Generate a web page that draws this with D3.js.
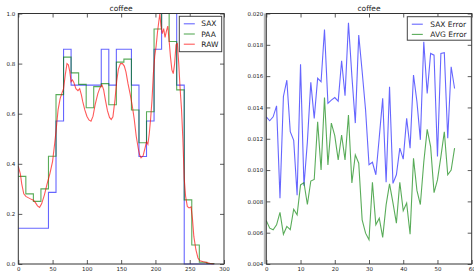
<!DOCTYPE html>
<html>
<head>
<meta charset="utf-8">
<script src="https://cdn.jsdelivr.net/npm/d3@7"></script>
<style>
  body { margin: 0; background: #fff; }
  svg { display: block; font-family: "DejaVu Sans", sans-serif; }
  .tick text { font-size: 5.5px; fill: #222; }
  .tick line { stroke: #333; stroke-width: 0.8; }
</style>
</head>
<body>
<div id="chart"></div>
<script>
// left panel: segment edges of the 26 PAA/SAX frames
var segEdges = [0, 11, 22, 33, 44, 55, 66, 77, 88, 99, 110, 121, 132, 143, 154, 165, 176, 187, 198, 209, 220, 231, 242, 253, 264, 275, 286];
var saxVals = [0.143, 0.143, 0.143, 0.143, 0.286, 0.571, 0.857, 0.714, 0.714, 0.714, 0.714, 0.857, 0.714,
               0.857, 0.857, 0.714, 0.429, 0.571, 0.857, 1.0, 1.0, 0.714, 0, 0, 0, 0];
var paaVals = [0.35, 0.28, 0.25, 0.30, 0.43, 0.676, 0.826, 0.763, 0.717, 0.624, 0.708, 0.72, 0.636,
               0.806, 0.818, 0.615, 0.484, 0.608, 0.938, 1.0, 0.888, 0.695, 0.256, 0.076, 0.007, 0.002];
var rawX = [0, 3, 5, 8, 11, 15, 19, 22, 25, 28, 31, 34, 38, 42, 46, 50, 53, 55, 58, 61, 64, 66, 68.5, 71, 73, 75, 77, 79,
            81, 84, 87, 89.5, 92, 94, 97, 100, 103, 106, 109, 112, 116, 119, 122, 124.5, 127, 130, 133, 135.5, 138, 141,
            143.5, 146, 149, 152, 154.6, 157, 160, 163, 166, 169, 172, 175, 177, 179, 182, 185, 187, 189, 191, 193, 195,
            197, 199, 201, 203, 205, 206.5, 208, 210, 212, 214, 216, 218, 220, 222, 224, 226, 228, 230, 232, 234, 236,
            238, 240, 242, 244, 246.5, 249, 252, 254, 256, 259, 262, 265, 270, 275, 280, 285];
var rawY = [0.39, 0.36, 0.32, 0.28, 0.27, 0.264, 0.258, 0.255, 0.245, 0.232, 0.226, 0.24, 0.275, 0.32, 0.36, 0.41, 0.48,
            0.53, 0.615, 0.66, 0.685, 0.70, 0.755, 0.80, 0.795, 0.77, 0.728, 0.735, 0.725, 0.70, 0.692, 0.70, 0.675, 0.648,
            0.615, 0.59, 0.575, 0.57, 0.59, 0.635, 0.68, 0.703, 0.715, 0.695, 0.655, 0.612, 0.585, 0.577, 0.588, 0.655,
            0.73, 0.778, 0.80, 0.80, 0.79, 0.767, 0.72, 0.68, 0.635, 0.58, 0.51, 0.46, 0.435, 0.424, 0.432, 0.465, 0.488,
            0.478, 0.52, 0.58, 0.655, 0.76, 0.83, 0.87, 0.925, 0.97, 1.0, 0.95, 0.92, 0.94, 0.905, 0.93, 0.95, 0.89,
            0.825, 0.775, 0.76, 0.80, 0.875, 0.88, 0.80, 0.70, 0.62, 0.50, 0.34, 0.27, 0.23, 0.224, 0.228, 0.18, 0.11,
            0.057, 0.024, 0.013, 0.009, 0.006, 0.002, 0.0];

// right panel: reconstruction errors per word length
var saxErr = [0.0134, 0.01315, 0.0134, 0.0141, 0.0082, 0.0147, 0.01574, 0.01245, 0.0119, 0.0084, 0.01675, 0.0090,
              0.0118, 0.0156, 0.0133, 0.01586, 0.01564, 0.01898, 0.01426, 0.01447, 0.01463, 0.0144, 0.01698, 0.01475,
              0.0194, 0.0160, 0.0130, 0.01862, 0.0163, 0.01384, 0.01034, 0.0105, 0.0097, 0.0121, 0.01458, 0.00922,
              0.01532, 0.00915, 0.0097, 0.0114, 0.0107, 0.0133, 0.0114, 0.01607, 0.01437, 0.01193, 0.01819, 0.0149,
              0.01745, 0.01734, 0.01086, 0.01745, 0.0175, 0.01203, 0.0166, 0.01521];
var avgErr = [0.00677, 0.00629, 0.00619, 0.0065, 0.0073, 0.0059, 0.0064, 0.0062, 0.0075, 0.00714, 0.00905, 0.0092,
              0.0078, 0.0093, 0.0094, 0.01309, 0.0100, 0.01464, 0.01033, 0.0130, 0.0122, 0.01065, 0.01224, 0.01065,
              0.01352, 0.00917, 0.01097, 0.01044, 0.00682, 0.00597, 0.00555, 0.00922, 0.0065, 0.00693, 0.0057, 0.00778,
              0.00912, 0.0079, 0.00661, 0.00922, 0.0074, 0.00789, 0.0059, 0.01075, 0.0087, 0.0078, 0.0105, 0.0126,
              0.0115, 0.00856, 0.00937, 0.01086, 0.01245, 0.0097, 0.0100, 0.0114];

var leftXTicks = [0, 50, 100, 150, 200, 250, 300];
var leftYTicks = [0.0, 0.2, 0.4, 0.6, 0.8, 1.0];
var rightXTicks = [0, 10, 20, 30, 40, 50, 60];
var rightYTicks = [0.004, 0.006, 0.008, 0.010, 0.012, 0.014, 0.016, 0.018, 0.020];

var W = 474, H = 276;
var svg = d3.select('#chart').append('svg').attr('width', W).attr('height', H);

var plotTop = 13.5, plotBottom = 264;

function frame(g, x, y, xTicks, yTicks, xFmt, yFmt) {
    g.append('g').attr('transform', 'translate(0,' + plotBottom + ')')
        .call(d3.axisBottom(x).tickValues(xTicks).tickFormat(xFmt).tickSizeInner(-4).tickSizeOuter(0).tickPadding(3))
        .call(a => a.select('.domain').remove());
    g.append('g').attr('transform', 'translate(0,' + plotTop + ')')
        .call(d3.axisTop(x).tickValues(xTicks).tickFormat('').tickSizeInner(-4).tickSizeOuter(0))
        .call(a => a.select('.domain').remove());
    g.append('g').attr('transform', 'translate(' + x.range()[0] + ',0)')
        .call(d3.axisLeft(y).tickValues(yTicks).tickFormat(yFmt).tickSizeInner(-4).tickSizeOuter(0).tickPadding(3))
        .call(a => a.select('.domain').remove());
    g.append('g').attr('transform', 'translate(' + x.range()[1] + ',0)')
        .call(d3.axisRight(y).tickValues(yTicks).tickFormat('').tickSizeInner(-4).tickSizeOuter(0))
        .call(a => a.select('.domain').remove());
    g.selectAll('g[font-family]').attr('font-family', null).attr('font-size', null);
}

function border(g, x) {
    g.append('rect')
        .attr('x', x.range()[0]).attr('y', plotTop)
        .attr('width', x.range()[1] - x.range()[0]).attr('height', plotBottom - plotTop)
        .attr('fill', 'none').attr('stroke', '#333').attr('stroke-width', 1);
}

function legend(g, x0, y0, w, h, items) {
    g.append('rect').attr('x', x0).attr('y', y0).attr('width', w).attr('height', h)
        .attr('fill', '#fff').attr('stroke', '#444').attr('stroke-width', 1);
    items.forEach(function(it, i) {
        var yy = y0 + 7.5 + i * 10.2;
        g.append('line').attr('x1', x0 + 4.5).attr('x2', x0 + 15.5).attr('y1', yy).attr('y2', yy)
            .attr('stroke', it.color).attr('stroke-opacity', it.op).attr('stroke-width', 1.1);
        g.append('text').attr('x', x0 + it.tx).attr('y', yy + 2.6)
            .attr('font-size', 7.5).attr('fill', '#222').text(it.label);
    });
}

// ---------- left panel ----------
var xL = d3.scaleLinear().domain([0, 300]).range([18.3, 224]);
var yL = d3.scaleLinear().domain([0, 1]).range([plotBottom, plotTop]);
var gL = svg.append('g');

frame(gL, xL, yL, leftXTicks, leftYTicks, d3.format('d'), d3.format('.1f'));

var step = d3.line().x(d => xL(d[0])).y(d => yL(d[1])).curve(d3.curveStepAfter);
function steps(vals) {
    var pts = vals.map((v, i) => [segEdges[i], v]);
    pts.push([segEdges[segEdges.length - 1], vals[vals.length - 1]]);
    return pts;
}

gL.append('path').attr('d', step(steps(saxVals)))
    .attr('fill', 'none').attr('stroke', '#0000ff').attr('stroke-opacity', 0.6).attr('stroke-width', 1.1);
gL.append('path').attr('d', step(steps(paaVals)))
    .attr('fill', 'none').attr('stroke', '#008000').attr('stroke-opacity', 0.65).attr('stroke-width', 1.1);

var rawLine = d3.line().x((d, i) => xL(rawX[i])).y(d => yL(d));
gL.append('path').attr('d', rawLine(rawY))
    .attr('fill', 'none').attr('stroke', '#ff0000').attr('stroke-opacity', 0.65).attr('stroke-width', 1.1);

border(gL, xL);
gL.append('text').attr('x', (xL.range()[0] + xL.range()[1]) / 2).attr('y', 10.8)
    .attr('text-anchor', 'middle').attr('font-size', 7.5).attr('fill', '#222').text('coffee');

legend(gL, 179.3, 16.3, 42.4, 35.4, [
    {label: 'SAX', color: '#0000ff', op: 0.6, tx: 22},
    {label: 'PAA', color: '#008000', op: 0.65, tx: 22},
    {label: 'RAW', color: '#ff0000', op: 0.65, tx: 22}
]);

// ---------- right panel ----------
var xR = d3.scaleLinear().domain([0, 60]).range([266.3, 471.7]);
var yR = d3.scaleLinear().domain([0.004, 0.020]).range([plotBottom, plotTop]);
var gR = svg.append('g');

frame(gR, xR, yR, rightXTicks, rightYTicks, d3.format('d'), d3.format('.3f'));

var errLine = d3.line().x((d, i) => xR(i)).y(d => yR(d));
gR.append('path').attr('d', errLine(saxErr))
    .attr('fill', 'none').attr('stroke', '#0000ff').attr('stroke-opacity', 0.6).attr('stroke-width', 1.1);
gR.append('path').attr('d', errLine(avgErr))
    .attr('fill', 'none').attr('stroke', '#008000').attr('stroke-opacity', 0.65).attr('stroke-width', 1.1);

// light grey edge strip left of the right panel
gR.append('rect').attr('x', 263.8).attr('y', plotTop).attr('width', 2).attr('height', plotBottom - plotTop).attr('fill', '#b4b4b4');
border(gR, xR);
gR.append('text').attr('x', (xR.range()[0] + xR.range()[1]) / 2).attr('y', 10.8)
    .attr('text-anchor', 'middle').attr('font-size', 7.5).attr('fill', '#222').text('coffee');

legend(gR, 407.3, 16.7, 64, 23.5, [
    {label: 'SAX Error', color: '#0000ff', op: 0.6, tx: 23},
    {label: 'AVG Error', color: '#008000', op: 0.65, tx: 23}
]);
</script>
</body>
</html>
